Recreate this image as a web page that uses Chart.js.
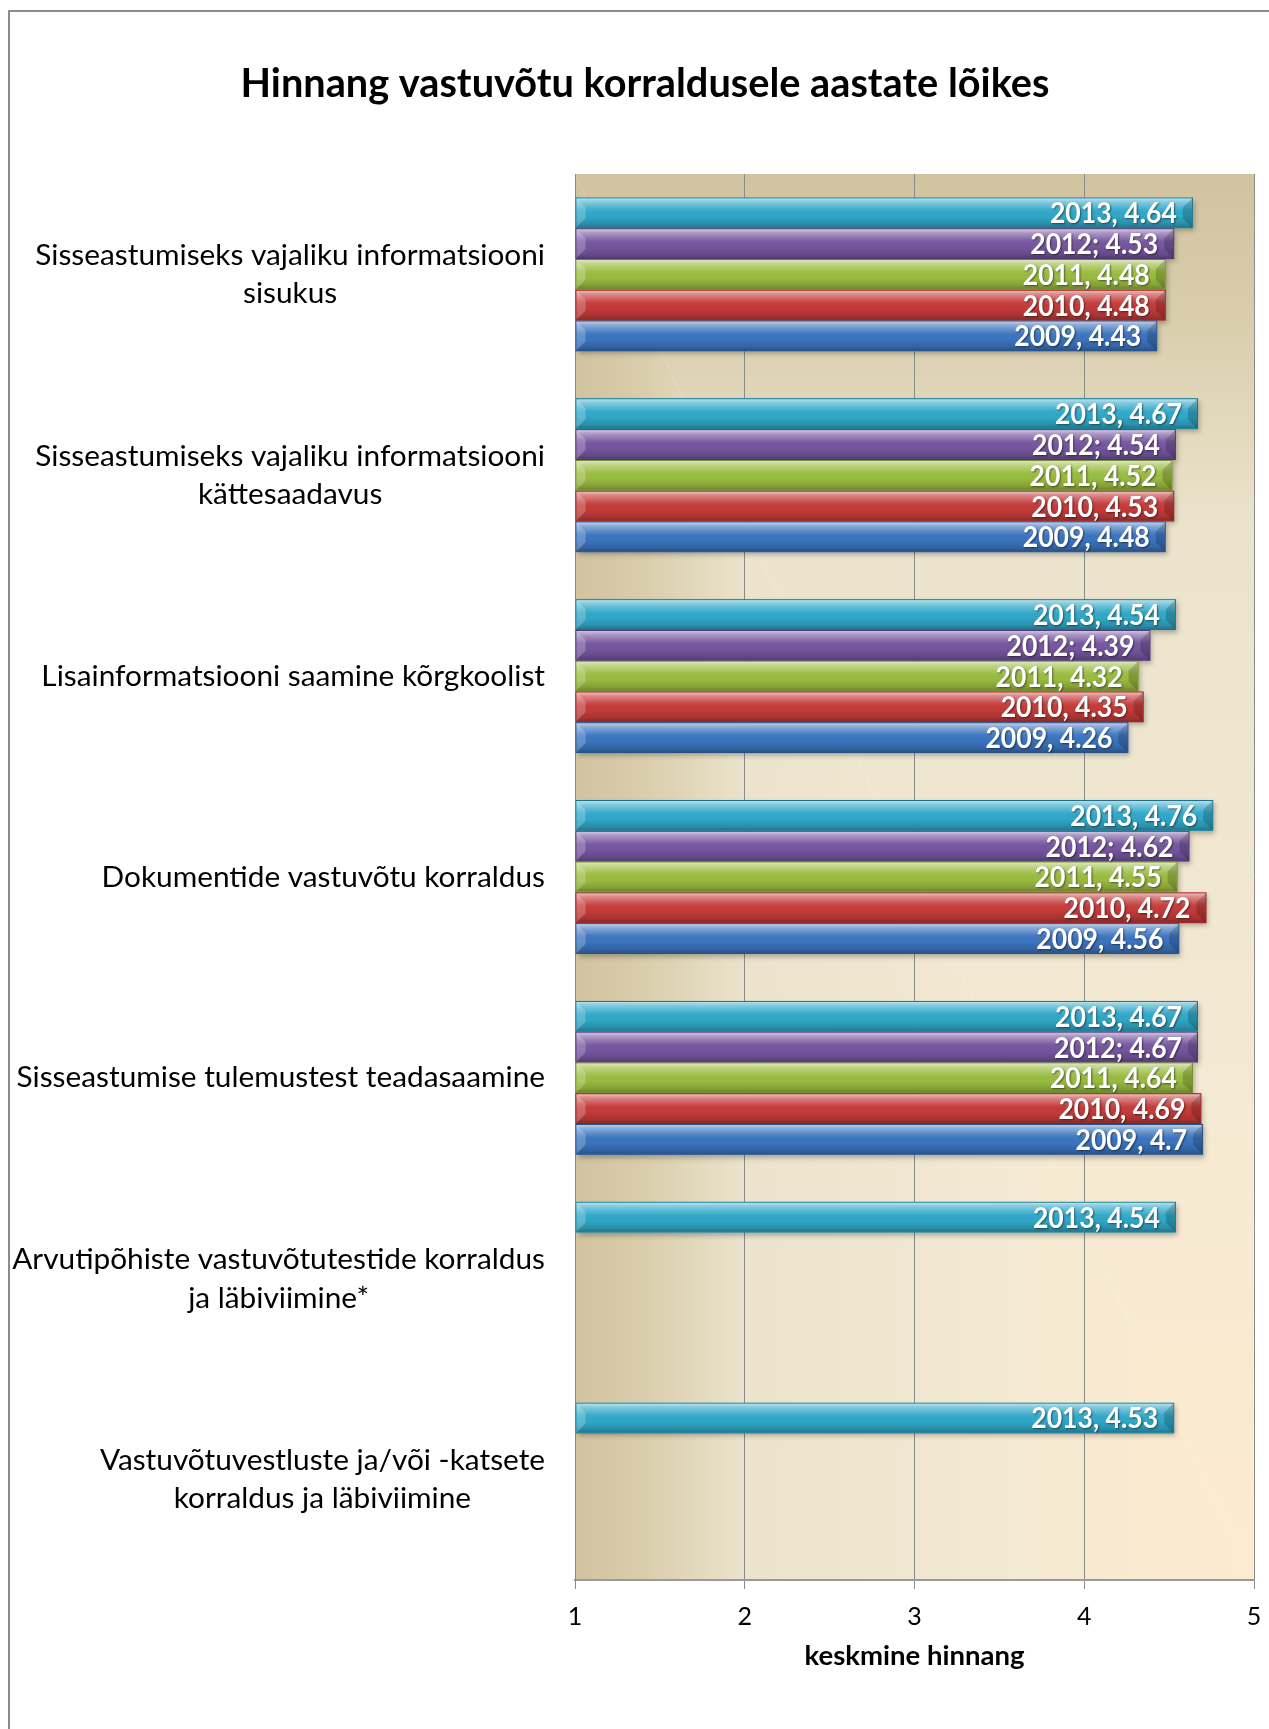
<!DOCTYPE html>
<html><head><meta charset="utf-8">
<script src="https://cdn.jsdelivr.net/npm/chart.js@4.4.0/dist/chart.umd.min.js"></script>
<style>
html,body{margin:0;padding:0;background:#fff;}
#wrap{position:relative;width:1269px;height:1729px;overflow:hidden;}
#frame{position:absolute;left:8px;top:10px;width:1400px;height:1800px;border-left:2px solid #8c8c8c;border-top:2px solid #8c8c8c;}
canvas{position:absolute;left:0;top:0;}
</style></head><body>
<div id="wrap"><div id="frame"></div><canvas id="c" width="1269" height="1729"></canvas></div>
<script>
// ---- data ----
const categories = [
  ["Sisseastumiseks vajaliku informatsiooni", "sisukus"],
  ["Sisseastumiseks vajaliku informatsiooni", "kättesaadavus"],
  ["Lisainformatsiooni saamine kõrgkoolist"],
  ["Dokumentide vastuvõtu korraldus"],
  ["Sisseastumise tulemustest teadasaamine"],
  ["Arvutipõhiste vastuvõtutestide korraldus", "ja läbiviimine*"],
  ["Vastuvõtuvestluste ja/või -katsete", "korraldus ja läbiviimine"]
];
const years = ["2013", "2012", "2011", "2010", "2009"];
const separators = [", ", "; ", ", ", ", ", ", "];
const v2013 = [4.64, 4.67, 4.54, 4.76, 4.67, 4.54, 4.53];
const v2012 = [4.53, 4.54, 4.39, 4.62, 4.67, null, null];
const v2011 = [4.48, 4.52, 4.32, 4.55, 4.64, null, null];
const v2010 = [4.48, 4.53, 4.35, 4.72, 4.69, null, null];
const v2009 = [4.43, 4.48, 4.26, 4.56, 4.7, null, null];
const xTicks = [1, 2, 3, 4, 5];
const titleText = "Hinnang vastuvõtu korraldusele aastate lõikes";
const xAxisTitle = "keskmine hinnang";

// ---- styles ----
const seriesValues = [v2013, v2012, v2011, v2010, v2009];
const baseColors = ["#30a8c8", "#7656a0", "#9abc40", "#c43b39", "#3b74bf"];
const edgeColors = ["#1f7189", "#4f3873", "#6b8430", "#8a2625", "#27528a"];

const FAM = "Lato, 'Open Sans', 'Liberation Sans', sans-serif";
const mctx = document.createElement('canvas').getContext('2d');
function fit(text, target, weight) {
  mctx.font = weight + " 100px " + FAM;
  const w = mctx.measureText(text).width;
  return Math.round(1000 * target / w) / 10;
}
const titleSize = fit(titleText, 809, "bold");
const catSize = fit("Arvutipõhiste vastuvõtutestide korraldus", 532, "normal");
const labelFit = fit("2013, 4.64", 127, "bold");
const labelSize = Math.round(labelFit * 1.1 * 10) / 10;
const labelSqueeze = labelFit / labelSize;
const axisTitleSize = fit(xAxisTitle, 220, "bold");
const tickSize = Math.round(catSize * 0.84);
const titleLH = titleSize * 1.2;

const datasets = years.map((y, i) => ({
  label: y,
  data: seriesValues[i],
  base: xTicks[0],
  backgroundColor: baseColors[i],
  borderColor: edgeColors[i],
  borderWidth: 1,
  borderSkipped: false,
  categoryPercentage: 0.766,
  barPercentage: 1.0
}));

const bgPlugin = {
  id: 'bg',
  beforeDraw(chart) {
    const {ctx, chartArea: a} = chart;
    const stops = [[0, "#d2c3a0"], [0.1, "#d9cdab"], [0.25, "#ebe3cc"], [0.6, "#f3e9d3"], [1, "#fdebcf"]];
    ctx.save();
    ctx.beginPath();
    ctx.moveTo(a.left, a.top); ctx.lineTo(a.left, a.bottom); ctx.lineTo(a.right, a.bottom); ctx.closePath();
    let g = ctx.createLinearGradient(a.left, 0, a.right, 0);
    stops.forEach(s => g.addColorStop(s[0], s[1]));
    ctx.fillStyle = g; ctx.fill();
    ctx.beginPath();
    ctx.moveTo(a.left, a.top); ctx.lineTo(a.right, a.top); ctx.lineTo(a.right, a.bottom); ctx.closePath();
    g = ctx.createLinearGradient(0, a.top, 0, a.bottom);
    stops.forEach(s => g.addColorStop(s[0], s[1]));
    ctx.fillStyle = g; ctx.fill();
    ctx.restore();
  }
};

const catLabelPlugin = {
  id: 'catLabels',
  afterDraw(chart) {
    const {ctx} = chart;
    const ys = chart.scales.y;
    const rightEdge = 545;
    const lh = 38.6;
    ctx.save();
    ctx.font = "normal " + catSize + "px " + FAM;
    ctx.fillStyle = "#000";
    ctx.textAlign = "center";
    ctx.textBaseline = "middle";
    categories.forEach((lines, i) => {
      const cy = ys.getPixelForTick(i);
      const w = Math.max(...lines.map(l => ctx.measureText(l).width));
      const cx = rightEdge - w / 2;
      lines.forEach((l, j) => {
        ctx.fillText(l, cx, cy + (j - (lines.length - 1) / 2) * lh);
      });
    });
    ctx.restore();
  }
};

const barDecorPlugin = {
  id: 'barDecor',
  beforeDatasetsDraw(chart) {
    const {ctx} = chart;
    ctx.save();
    ctx.shadowColor = "rgba(0,0,0,0.28)";
    ctx.shadowBlur = 5;
    ctx.shadowOffsetX = 2;
    ctx.shadowOffsetY = 3;
    chart.data.datasets.forEach((ds, di) => {
      const meta = chart.getDatasetMeta(di);
      meta.data.forEach((el, i) => {
        if (ds.data[i] == null) return;
        const p = el.getProps(['x', 'y', 'base', 'height'], true);
        ctx.fillStyle = baseColors[di];
        ctx.fillRect(p.base, p.y - p.height / 2, p.x - p.base, p.height);
      });
    });
    ctx.restore();
  },
  afterDatasetsDraw(chart) {
    const {ctx} = chart;
    ctx.save();
    chart.data.datasets.forEach((ds, di) => {
      const meta = chart.getDatasetMeta(di);
      meta.data.forEach((el, i) => {
        if (ds.data[i] == null) return;
        const p = el.getProps(['x', 'y', 'base', 'height'], true);
        const top = p.y - p.height / 2 + 1, h = p.height - 2;
        const left = p.base + 1, w = p.x - p.base - 2;
        let g = ctx.createLinearGradient(0, top, 0, top + h);
        g.addColorStop(0, "rgba(255,255,255,0.65)");
        g.addColorStop(0.12, "rgba(255,255,255,0.4)");
        g.addColorStop(0.4, "rgba(255,255,255,0.05)");
        g.addColorStop(0.6, "rgba(0,0,0,0)");
        g.addColorStop(0.88, "rgba(0,0,0,0.15)");
        g.addColorStop(1, "rgba(0,0,0,0.3)");
        ctx.fillStyle = g;
        ctx.fillRect(left, top, w, h);
        const bw = 9;
        ctx.fillStyle = "rgba(255,255,255,0.22)";
        ctx.beginPath();
        ctx.moveTo(left, top); ctx.lineTo(left + bw, top + bw); ctx.lineTo(left + bw, top + h - bw); ctx.lineTo(left, top + h); ctx.closePath();
        ctx.fill();
        ctx.fillStyle = "rgba(0,0,0,0.18)";
        ctx.beginPath();
        ctx.moveTo(left + w, top); ctx.lineTo(left + w - bw, top + bw); ctx.lineTo(left + w - bw, top + h - bw); ctx.lineTo(left + w, top + h); ctx.closePath();
        ctx.fill();
        // value label
        ctx.save();
        ctx.translate(p.x - 16, p.y + 1);
        ctx.scale(labelSqueeze, 1);
        ctx.font = "bold " + labelSize + "px " + FAM;
        ctx.textAlign = "right";
        ctx.textBaseline = "middle";
        ctx.shadowColor = "rgba(0,0,0,0.5)";
        ctx.shadowBlur = 2;
        ctx.shadowOffsetX = 1;
        ctx.shadowOffsetY = 1;
        ctx.fillStyle = "#ffffff";
        ctx.fillText(years[di] + separators[di] + String(ds.data[i]), 0, 0);
        ctx.restore();
      });
    });
    ctx.restore();
  }
};

new Chart(document.getElementById('c'), {
  type: 'bar',
  data: {labels: categories, datasets: datasets},
  options: {
    indexAxis: 'y',
    responsive: false,
    animation: false,
    events: [],
    layout: {padding: {left: 36, right: 15, top: 0, bottom: 0}},
    plugins: {
      legend: {display: false},
      tooltip: {enabled: false},
      title: {
        display: true,
        text: titleText,
        color: "#000",
        font: {family: FAM, size: titleSize, weight: "bold", lineHeight: 1.2},
        padding: {top: 84 - titleLH / 2, bottom: 174 - (84 + titleLH / 2)}
      }
    },
    scales: {
      x: {
        type: 'linear',
        min: xTicks[0],
        max: xTicks[xTicks.length - 1],
        afterBuildTicks(s) { s.ticks = xTicks.map(v => ({value: v})); },
        afterFit(s) { s.height = 149; s.paddingRight = 0; s.paddingLeft = 0; },
        ticks: {color: "#000", font: {family: FAM, size: tickSize}, padding: 13},
        grid: {color: "#8a8a8a", lineWidth: 1, tickLength: 9, drawTicks: true},
        border: {display: true, color: "#9a9a9a", width: 2},
        title: {
          display: true, text: xAxisTitle, color: "#000",
          font: {family: FAM, size: axisTitleSize, weight: "bold", lineHeight: 1.2},
          padding: {top: 4, bottom: 56}
        }
      },
      y: {
        type: 'category',
        afterFit(s) { s.width = 539; },
        ticks: {display: false},
        grid: {display: false},
        border: {display: true, color: "#8a8a8a", width: 1}
      }
    }
  },
  plugins: [bgPlugin, barDecorPlugin, catLabelPlugin]
});
</script>
</body></html>
